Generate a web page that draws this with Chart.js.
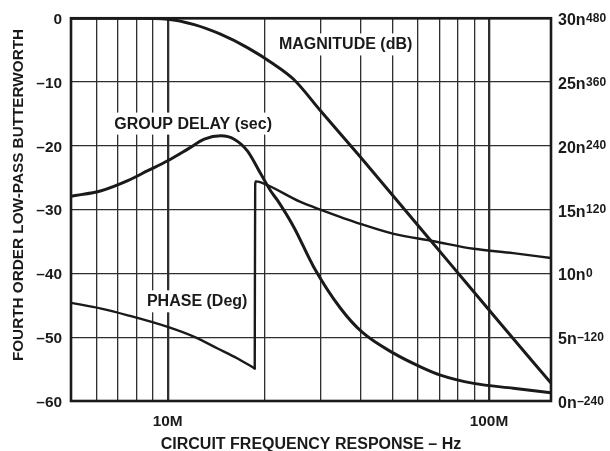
<!DOCTYPE html>
<html><head><meta charset="utf-8">
<script src="https://cdn.jsdelivr.net/npm/chart.js@4/dist/chart.umd.min.js"></script>
<style>html,body{margin:0;padding:0;background:#fff;}#wrap{width:610px;height:451px;}</style>
</head><body><div id="wrap"><canvas id="c" width="610" height="451"></canvas></div>
<script>
// ---- data (frequency in MHz) ----
const magFreqMHz = [5, 8, 10, 12.1, 14.6, 17.7, 21.4, 24.7, 29.9, 39.8, 53, 75.8, 108.4, 156];
const magDb      = [0, 0, -0.15, -1.0, -2.5, -4.6, -7.2, -9.6, -14.5, -21.75, -29.2, -38.5, -47.8, -57.2];

const delayFreqMHz = [5, 6.21, 7.51, 8.67, 10, 11.54, 13.0, 14.64, 16.1, 17.7, 19.5, 20.9, 22.0, 24.7, 28.5, 34.5, 40.3, 50.6, 61.2, 70.6, 89.6, 119, 156];
const delayNs      = [16.05, 16.48, 17.27, 18.05, 18.83, 19.74, 20.52, 20.78, 20.52, 19.61, 17.79, 16.48, 15.7, 13.62, 10.49, 7.27, 5.39, 3.73, 2.68, 2.03, 1.38, 1.0, 0.65];

const phaseFreqMHz = [5, 6.21, 7.51, 10, 12.1, 14.3, 16.5, 18.66, 18.72, 18.8, 19.49, 25.9, 29.9, 39.8, 50.5, 67.3, 89.6, 119, 156];
const phaseDeg     = [-55.3, -66.2, -78.8, -100.7, -119.4, -141.2, -160, -178.7, 166.9, 173.1, 171.2, 134.5, 120, 93.2, 74.4, 60.6, 46.3, 38.1, 29];
const phaseWrapIndex = 7; // last point before the +360 wrap

const xGridMHz = [5, 6, 7, 8, 9, 10, 20, 30, 40, 50, 60, 70, 80, 90, 100];
const xLabelMHz = [10, 100];
const xLabelText = ['10M', '100M'];
const dbTicks = [0, -10, -20, -30, -40, -50, -60];
const delayTicksNs = [0, 5, 10, 15, 20, 25, 30];
const phaseTicksDeg = [-240, -120, 0, 120, 240, 360, 480];
const seriesNames = ['MAGNITUDE (dB)', 'GROUP DELAY (sec)', 'PHASE (Deg)'];
const xTitle = 'CIRCUIT FREQUENCY RESPONSE – Hz';
const yTitle = 'FOURTH ORDER LOW-PASS BUTTERWORTH';

// ---- styling ----
const FONT = '"Liberation Sans", Arial, Helvetica, sans-serif';
const INK = '#1a1a1a';
const GRID = '#2e2e2e';
const pts = (xs, ys) => xs.map((v, i) => ({x: v, y: ys[i]}));
const dash = s => String(s).replace('-', '–');

const lineStyle = (w) => ({
  borderColor: INK, borderWidth: w, pointRadius: 0, fill: false,
  cubicInterpolationMode: 'monotone', borderJoinStyle: 'round', borderCapStyle: 'round'
});

const labelAnchors = [[35.8, -4.89], [12.0, -17.3], [12.35, -45.16]];

const overlay = {
  id: 'overlay',
  beforeDatasetsDraw(chart) {
    const ctx = chart.ctx, xs = chart.scales.x, ys = chart.scales.y;
    ctx.save();
    ctx.font = `bold 16px ${FONT}`;
    ctx.textAlign = 'center';
    ctx.textBaseline = 'alphabetic';
    seriesNames.forEach((name, i) => {
      const px = xs.getPixelForValue(labelAnchors[i][0]);
      const py = ys.getPixelForValue(labelAnchors[i][1]);
      const w = ctx.measureText(name).width;
      ctx.fillStyle = '#fff';
      ctx.fillRect(px - w / 2 - 4, py - 16, w + 8, 22);
      ctx.fillStyle = INK;
      ctx.fillText(name, px, py);
    });
    ctx.restore();
  },
  afterDraw(chart) {
    const ctx = chart.ctx, a = chart.chartArea, yd = chart.scales.yDelay;
    ctx.save();
    // frame
    ctx.strokeStyle = INK; ctx.lineWidth = 2.6;
    ctx.strokeRect(a.left, a.top, a.right - a.left, a.bottom - a.top);
    // right axis labels with superscripts
    ctx.fillStyle = INK; ctx.textAlign = 'left'; ctx.textBaseline = 'alphabetic';
    delayTicksNs.forEach((ns, i) => {
      const py = yd.getPixelForValue(ns);
      const main = ns + 'n';
      ctx.font = `bold 16px ${FONT}`;
      const x0 = a.right + 7;
      ctx.fillText(main, x0, py + 7);
      const w = ctx.measureText(main).width;
      ctx.font = `bold 12px ${FONT}`;
      ctx.fillText(dash(phaseTicksDeg[i]), x0 + w + 0.5, py + 3.5);
    });
    // axis titles
    ctx.font = `bold 16px ${FONT}`;
    ctx.textAlign = 'center';
    ctx.fillText(xTitle, (a.left + a.right) / 2, 448.5);
    ctx.translate(22.7, 195);
    ctx.rotate(-Math.PI / 2);
    ctx.font = `bold 15.3px ${FONT}`;
    ctx.fillText(yTitle, 0, 0);
    ctx.restore();
  }
};

new Chart(document.getElementById('c'), {
  type: 'line',
  data: {
    datasets: [
      {label: seriesNames[0], data: pts(magFreqMHz, magDb), yAxisID: 'y', ...lineStyle(3)},
      {label: seriesNames[1], data: pts(delayFreqMHz, delayNs), yAxisID: 'yDelay', ...lineStyle(3)},
      {label: seriesNames[2], data: pts(phaseFreqMHz.slice(0, phaseWrapIndex + 1), phaseDeg.slice(0, phaseWrapIndex + 1)), yAxisID: 'yPhase', ...lineStyle(2.4)},
      {label: seriesNames[2], data: pts(phaseFreqMHz.slice(phaseWrapIndex), phaseDeg.slice(phaseWrapIndex)), yAxisID: 'yPhase', ...lineStyle(2.4)}
    ]
  },
  options: {
    responsive: false, animation: false, devicePixelRatio: 1,
    layout: {padding: {top: 17, right: 59, left: 0, bottom: 0}},
    plugins: {legend: {display: false}, tooltip: {enabled: false}},
    scales: {
      x: {
        type: 'logarithmic', min: 5, max: 156,
        afterBuildTicks: s => { s.ticks = xGridMHz.map(v => ({value: v, major: xLabelMHz.includes(v)})); },
        afterFit: s => { s.height = 50; },
        grid: {color: GRID, drawTicks: false,
               lineWidth: c => (c.tick && xLabelMHz.includes(c.tick.value)) ? 2.3 : 1.3},
        border: {display: false},
        ticks: {autoSkip: false, maxRotation: 0, padding: 12, color: INK,
                font: {family: FONT, size: 15.4, weight: 'bold'},
                callback: v => { const i = xLabelMHz.indexOf(v); return i >= 0 ? xLabelText[i] : ''; }}
      },
      y: {
        type: 'linear', position: 'left', min: -60, max: 0,
        afterBuildTicks: s => { s.ticks = dbTicks.map(v => ({value: v})); },
        afterFit: s => { s.width = 71; },
        grid: {color: GRID, lineWidth: 1.3, drawTicks: false},
        border: {display: false},
        ticks: {padding: 9, labelOffset: 1.5, color: INK, font: {family: FONT, size: 15.4, weight: 'bold'},
                callback: v => dash(v)}
      },
      yDelay: {type: 'linear', position: 'right', min: 0, max: 30, display: false},
      yPhase: {type: 'linear', position: 'right', min: -240, max: 480, display: false}
    }
  },
  plugins: [overlay]
});
</script>
</body></html>
